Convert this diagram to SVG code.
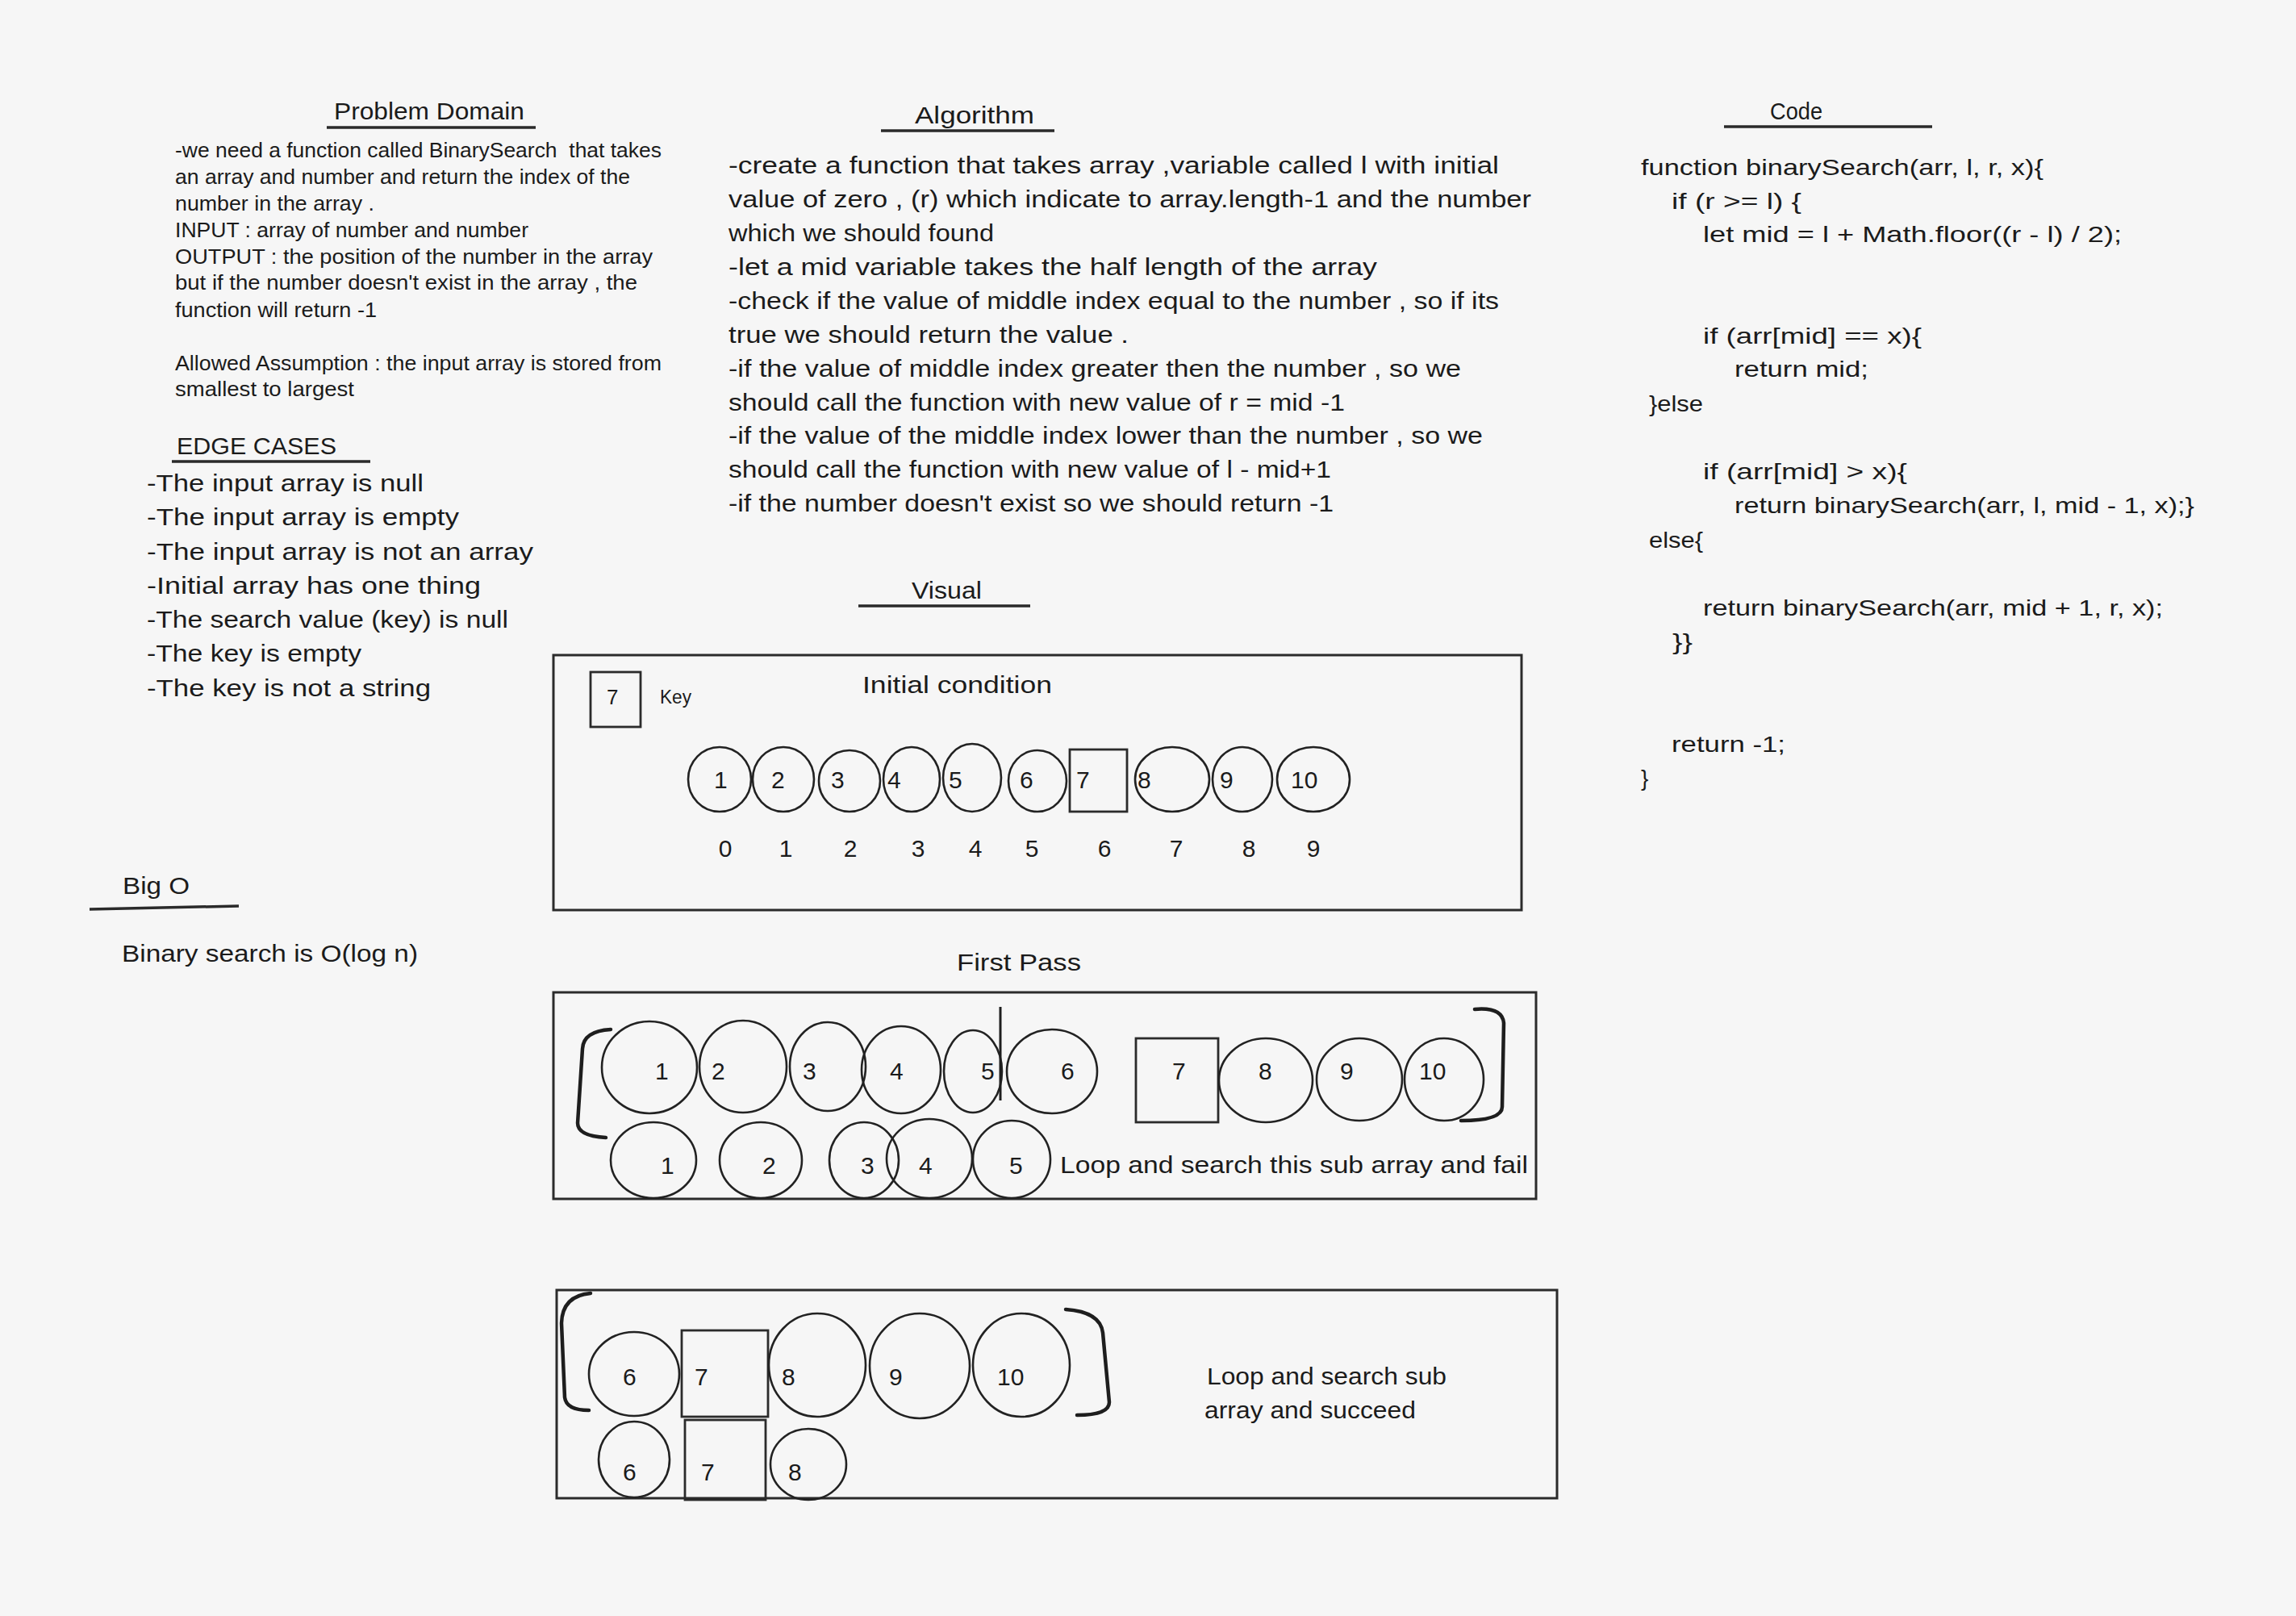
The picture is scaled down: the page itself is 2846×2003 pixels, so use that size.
<svg xmlns="http://www.w3.org/2000/svg" width="2846" height="2003" viewBox="0 0 2846 2003">
<style>
text{font-family:"Liberation Sans","DejaVu Sans",sans-serif;fill:#1b1b1b}
.h{font-size:29px}
.pd{font-size:25px}
.al{font-size:29px}
.cd{font-size:28px}
.ec{font-size:29px}
.n{font-size:30px}
.ix{font-size:30px;text-anchor:middle}
.ul{stroke:#2a2a2a;stroke-width:3.5;fill:none}
.box{fill:none;stroke:#2b2b2b;stroke-width:3}
.el{fill:none;stroke:#222;stroke-width:2.6}
.sq{fill:none;stroke:#2b2b2b;stroke-width:2.8}
.br{fill:none;stroke:#1e1e1e;stroke-width:4.5;stroke-linecap:round}
</style>
<rect x="0" y="0" width="2846" height="2003" fill="#f6f6f6"/>

<g id="problem-domain">
<text class="h" x="414" y="148" textLength="236" lengthAdjust="spacingAndGlyphs">Problem Domain</text>
<line class="ul" x1="405" y1="158" x2="664" y2="158"/>
<text class="pd" x="217" y="195" textLength="603" lengthAdjust="spacingAndGlyphs" style="white-space:pre">-we need a function called BinarySearch  that takes</text>
<text class="pd" x="217" y="228" textLength="564" lengthAdjust="spacingAndGlyphs">an array and number and return the index of the</text>
<text class="pd" x="217" y="261" textLength="247" lengthAdjust="spacingAndGlyphs">number in the array .</text>
<text class="pd" x="217" y="294" textLength="438" lengthAdjust="spacingAndGlyphs">INPUT : array of number and number</text>
<text class="pd" x="217" y="327" textLength="592" lengthAdjust="spacingAndGlyphs">OUTPUT : the position of the number in the array</text>
<text class="pd" x="217" y="359" textLength="573" lengthAdjust="spacingAndGlyphs">but if the number doesn't exist in the array , the</text>
<text class="pd" x="217" y="393" textLength="250" lengthAdjust="spacingAndGlyphs">function will return -1</text>
<text class="pd" x="217" y="459" textLength="603" lengthAdjust="spacingAndGlyphs">Allowed Assumption : the input array is stored from</text>
<text class="pd" x="217" y="491" textLength="222" lengthAdjust="spacingAndGlyphs">smallest to largest</text>
</g>

<g id="edge-cases">
<text class="h" x="219" y="563" textLength="198" lengthAdjust="spacingAndGlyphs">EDGE CASES</text>
<line class="ul" x1="213" y1="572" x2="459" y2="572"/>
<text class="ec" x="182" y="609" textLength="343" lengthAdjust="spacingAndGlyphs">-The input array is null</text>
<text class="ec" x="182" y="651" textLength="387" lengthAdjust="spacingAndGlyphs">-The input array is empty</text>
<text class="ec" x="182" y="694" textLength="479" lengthAdjust="spacingAndGlyphs">-The input array is not an array</text>
<text class="ec" x="182" y="736" textLength="414" lengthAdjust="spacingAndGlyphs">-Initial array has one thing</text>
<text class="ec" x="182" y="778" textLength="448" lengthAdjust="spacingAndGlyphs">-The search value (key) is null</text>
<text class="ec" x="182" y="820" textLength="266" lengthAdjust="spacingAndGlyphs">-The key is empty</text>
<text class="ec" x="182" y="863" textLength="352" lengthAdjust="spacingAndGlyphs">-The key is not a string</text>
</g>

<g id="big-o">
<text class="h" x="152" y="1108" textLength="83" lengthAdjust="spacingAndGlyphs">Big O</text>
<line class="ul" x1="111" y1="1127" x2="296" y2="1123"/>
<text class="ec" x="151" y="1192" textLength="367" lengthAdjust="spacingAndGlyphs">Binary search is O(log n)</text>
</g>

<g id="algorithm">
<text class="h" x="1134" y="153" textLength="148" lengthAdjust="spacingAndGlyphs">Algorithm</text>
<line class="ul" x1="1092" y1="162" x2="1307" y2="162"/>
<text class="al" x="903" y="215" textLength="955" lengthAdjust="spacingAndGlyphs">-create a function that takes array ,variable called l with initial</text>
<text class="al" x="903" y="257" textLength="995" lengthAdjust="spacingAndGlyphs">value of zero , (r) which indicate to array.length-1 and the number</text>
<text class="al" x="903" y="299" textLength="329" lengthAdjust="spacingAndGlyphs">which we should found</text>
<text class="al" x="903" y="341" textLength="804" lengthAdjust="spacingAndGlyphs">-let a mid variable takes the half length of the array</text>
<text class="al" x="903" y="383" textLength="955" lengthAdjust="spacingAndGlyphs">-check if the value of middle index equal to the number , so if its</text>
<text class="al" x="903" y="425" textLength="496" lengthAdjust="spacingAndGlyphs">true we should return the value .</text>
<text class="al" x="903" y="467" textLength="908" lengthAdjust="spacingAndGlyphs">-if the value of middle index greater then the number , so we</text>
<text class="al" x="903" y="509" textLength="764" lengthAdjust="spacingAndGlyphs">should call the function with new value of r = mid -1</text>
<text class="al" x="903" y="550" textLength="935" lengthAdjust="spacingAndGlyphs">-if the value of the middle index lower than the number , so we</text>
<text class="al" x="903" y="592" textLength="747" lengthAdjust="spacingAndGlyphs">should call the function with new value of l - mid+1</text>
<text class="al" x="903" y="634" textLength="750" lengthAdjust="spacingAndGlyphs">-if the number doesn't exist so we should return -1</text>
</g>

<g id="code">
<text class="h" x="2194" y="148" textLength="65" lengthAdjust="spacingAndGlyphs">Code</text>
<line class="ul" x1="2137" y1="157" x2="2395" y2="157"/>
<text class="cd" x="2034" y="217" textLength="499" lengthAdjust="spacingAndGlyphs">function binarySearch(arr, l, r, x){</text>
<text class="cd" x="2072" y="259" textLength="161" lengthAdjust="spacingAndGlyphs">if (r &gt;= l) {</text>
<text class="cd" x="2111" y="300" textLength="519" lengthAdjust="spacingAndGlyphs">let mid = l + Math.floor((r - l) / 2);</text>
<text class="cd" x="2111" y="426" textLength="271" lengthAdjust="spacingAndGlyphs">if (arr[mid] == x){</text>
<text class="cd" x="2150" y="467" textLength="166" lengthAdjust="spacingAndGlyphs">return mid;</text>
<text class="cd" x="2044" y="510" textLength="67" lengthAdjust="spacingAndGlyphs">}else</text>
<text class="cd" x="2111" y="594" textLength="253" lengthAdjust="spacingAndGlyphs">if (arr[mid] &gt; x){</text>
<text class="cd" x="2150" y="636" textLength="570" lengthAdjust="spacingAndGlyphs">return binarySearch(arr, l, mid - 1, x);}</text>
<text class="cd" x="2044" y="679" textLength="67" lengthAdjust="spacingAndGlyphs">else{</text>
<text class="cd" x="2111" y="763" textLength="570" lengthAdjust="spacingAndGlyphs">return binarySearch(arr, mid + 1, r, x);</text>
<text class="cd" x="2073" y="805" textLength="25" lengthAdjust="spacingAndGlyphs">}}</text>
<text class="cd" x="2072" y="932" textLength="141" lengthAdjust="spacingAndGlyphs">return -1;</text>
<text class="cd" x="2034" y="974">}</text>
</g>

<g id="visual-title">
<text class="h" x="1130" y="742" textLength="87" lengthAdjust="spacingAndGlyphs">Visual</text>
<line class="ul" x1="1064" y1="751" x2="1277" y2="751"/>
</g>

<g id="initial-condition">
<rect class="box" x="686" y="812" width="1200" height="316"/>
<rect class="sq" x="732" y="833" width="62" height="68"/>
<text style="font-size:26px" x="752" y="873">7</text>
<text style="font-size:24px" x="818" y="872" textLength="39" lengthAdjust="spacingAndGlyphs">Key</text>
<text class="h" x="1069" y="859" textLength="235" lengthAdjust="spacingAndGlyphs">Initial condition</text>
<ellipse class="el" cx="892" cy="966" rx="39" ry="40"/>
<ellipse class="el" cx="971" cy="966" rx="38" ry="40"/>
<ellipse class="el" cx="1053" cy="968" rx="38" ry="38"/>
<ellipse class="el" cx="1130" cy="966" rx="35" ry="40"/>
<ellipse class="el" cx="1205" cy="964" rx="36" ry="42"/>
<ellipse class="el" cx="1286" cy="968" rx="36" ry="38"/>
<rect class="sq" x="1326" y="929" width="71" height="77"/>
<ellipse class="el" cx="1453" cy="966" rx="46" ry="40"/>
<ellipse class="el" cx="1540" cy="966" rx="37" ry="40"/>
<ellipse class="el" cx="1628" cy="966" rx="45" ry="40"/>
<text class="n" x="885" y="977">1</text>
<text class="n" x="956" y="977">2</text>
<text class="n" x="1030" y="977">3</text>
<text class="n" x="1100" y="977">4</text>
<text class="n" x="1176" y="977">5</text>
<text class="n" x="1264" y="977">6</text>
<text class="n" x="1334" y="977">7</text>
<text class="n" x="1410" y="977">8</text>
<text class="n" x="1512" y="977">9</text>
<text class="n" x="1600" y="977">10</text>
<text class="ix" x="899" y="1062">0</text>
<text class="ix" x="974" y="1062">1</text>
<text class="ix" x="1054" y="1062">2</text>
<text class="ix" x="1138" y="1062">3</text>
<text class="ix" x="1209" y="1062">4</text>
<text class="ix" x="1279" y="1062">5</text>
<text class="ix" x="1369" y="1062">6</text>
<text class="ix" x="1458" y="1062">7</text>
<text class="ix" x="1548" y="1062">8</text>
<text class="ix" x="1628" y="1062">9</text>
</g>

<g id="first-pass">
<text class="h" x="1186" y="1203" textLength="154" lengthAdjust="spacingAndGlyphs">First Pass</text>
<rect class="box" x="686" y="1230" width="1218" height="256"/>
<ellipse class="el" cx="805" cy="1323" rx="59" ry="57"/>
<ellipse class="el" cx="921" cy="1322" rx="54" ry="57"/>
<ellipse class="el" cx="1026" cy="1322" rx="47" ry="55"/>
<ellipse class="el" cx="1117" cy="1326" rx="49" ry="54"/>
<ellipse class="el" cx="1206" cy="1328" rx="36" ry="51"/>
<ellipse class="el" cx="1304" cy="1328" rx="56" ry="52"/>
<rect class="sq" x="1408" y="1287" width="102" height="104"/>
<ellipse class="el" cx="1569" cy="1339" rx="58" ry="52"/>
<ellipse class="el" cx="1685" cy="1338" rx="53" ry="51"/>
<ellipse class="el" cx="1790" cy="1338" rx="49" ry="51"/>
<line x1="1240" y1="1248" x2="1240" y2="1364" stroke="#1e1e1e" stroke-width="3"/>
<text class="n" x="812" y="1338">1</text>
<text class="n" x="882" y="1338">2</text>
<text class="n" x="995" y="1338">3</text>
<text class="n" x="1103" y="1338">4</text>
<text class="n" x="1216" y="1338">5</text>
<text class="n" x="1315" y="1338">6</text>
<text class="n" x="1453" y="1338">7</text>
<text class="n" x="1560" y="1338">8</text>
<text class="n" x="1661" y="1338">9</text>
<text class="n" x="1759" y="1338">10</text>
<ellipse class="el" cx="810" cy="1438" rx="53" ry="47"/>
<ellipse class="el" cx="943" cy="1438" rx="51" ry="47"/>
<ellipse class="el" cx="1071" cy="1438" rx="43" ry="47"/>
<ellipse class="el" cx="1152" cy="1436" rx="53" ry="49"/>
<ellipse class="el" cx="1254" cy="1437" rx="48" ry="48"/>
<text class="n" x="819" y="1455">1</text>
<text class="n" x="945" y="1455">2</text>
<text class="n" x="1067" y="1455">3</text>
<text class="n" x="1139" y="1455">4</text>
<text class="n" x="1251" y="1455">5</text>
<text class="al" x="1314" y="1454" textLength="580" lengthAdjust="spacingAndGlyphs">Loop and search this sub array and fail</text>
</g>

<g id="second-pass">
<rect class="box" x="690" y="1599" width="1240" height="258"/>
<ellipse class="el" cx="786" cy="1703" rx="56" ry="52"/>
<rect class="sq" x="845" y="1649" width="107" height="107"/>
<ellipse class="el" cx="1013" cy="1692" rx="60" ry="64"/>
<ellipse class="el" cx="1140" cy="1693" rx="62" ry="65"/>
<ellipse class="el" cx="1266" cy="1692" rx="60" ry="64"/>
<text class="n" x="772" y="1717">6</text>
<text class="n" x="861" y="1717">7</text>
<text class="n" x="969" y="1717">8</text>
<text class="n" x="1102" y="1717">9</text>
<text class="n" x="1236" y="1717">10</text>
<ellipse class="el" cx="786" cy="1809" rx="44" ry="47"/>
<rect class="sq" x="849" y="1760" width="100" height="99"/>
<ellipse class="el" cx="1002" cy="1815" rx="47" ry="44"/>
<text class="n" x="772" y="1835">6</text>
<text class="n" x="869" y="1835">7</text>
<text class="n" x="977" y="1835">8</text>
<text class="al" x="1496" y="1716" textLength="297" lengthAdjust="spacingAndGlyphs">Loop and search sub</text>
<text class="al" x="1493" y="1758" textLength="262" lengthAdjust="spacingAndGlyphs">array and succeed</text>
</g>

<g id="brackets">
<path class="br" d="M757,1276 Q723,1278 722,1300 L716,1392 Q716,1408 751,1410"/>
<path class="br" d="M1828,1251 Q1862,1248 1864,1268 L1862,1372 Q1862,1389 1811,1389"/>
<path class="br" d="M732,1603 Q697,1606 696,1640 L700,1732 Q702,1748 730,1748"/>
<path class="br" d="M1321,1623 Q1364,1626 1367,1652 L1375,1738 Q1375,1754 1335,1754"/>
</g>
</svg>
